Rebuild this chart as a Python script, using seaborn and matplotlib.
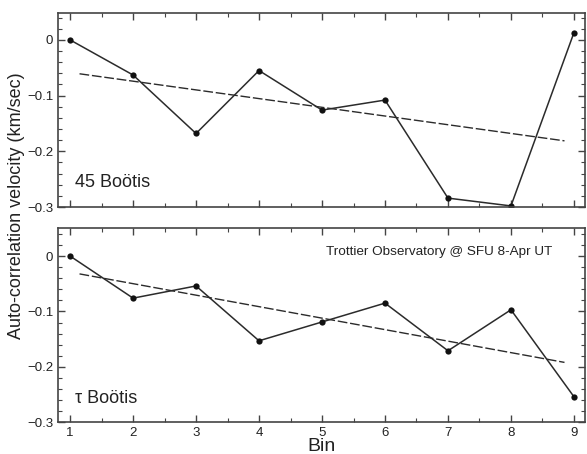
import numpy as np
import pandas as pd
import matplotlib
matplotlib.use("Agg")
import matplotlib.pyplot as plt
import seaborn as sns
from matplotlib.ticker import MultipleLocator

# --- data ---
bins = [1, 2, 3, 4, 5, 6, 7, 8, 9]
vel_45boo = [0.0, -0.063, -0.168, -0.055, -0.126, -0.108, -0.284, -0.298, 0.013]
vel_tauboo = [0.0, -0.076, -0.054, -0.153, -0.119, -0.085, -0.171, -0.097, -0.254]
star_names = ["45 Boötis", "τ Boötis"]
fit_range = [1.15, 8.85]

sns.set_style("ticks")
plt.rcParams["font.family"] = ["Liberation Sans", "DejaVu Sans"]

fig, axes = plt.subplots(2, 1, figsize=(5.87, 4.54), dpi=100, sharex=True)
fig.subplots_adjust(left=0.099, right=0.996, top=0.971, bottom=0.07, hspace=0.11)

ink = "#2b2b2b"
for ax, vel, name in zip(axes, [vel_45boo, vel_tauboo], star_names):
    df = pd.DataFrame({"Bin": bins, "vel": vel})
    sns.lineplot(data=df, x="Bin", y="vel", ax=ax, color=ink, lw=1.1,
                 marker="o", markersize=4.5, markeredgewidth=0, markerfacecolor="#111111")

    # least squares trend, drawn as dashed line
    k, b = np.polyfit(df["Bin"], df["vel"], 1)
    fit = pd.DataFrame({"Bin": fit_range})
    fit["vel"] = k * fit["Bin"] + b
    ax.plot(fit["Bin"], fit["vel"], color=ink, lw=1.0, dashes=(7, 2))

    ax.text(0.032, 0.124, name, transform=ax.transAxes, fontsize=13,
            va="center", ha="left", color="#222222")

    ax.set_xlim(0.81, 9.17)
    ax.set_ylim(-0.3, 0.048)
    ax.set_xticks(bins)
    ax.set_yticks([0, -0.1, -0.2, -0.3])
    ax.set_yticklabels(["0", "\u22120.1", "\u22120.2", "\u22120.3"])
    ax.xaxis.set_minor_locator(MultipleLocator(0.5))
    ax.yaxis.set_minor_locator(MultipleLocator(0.02))
    ax.tick_params(which="both", direction="in", top=True, right=True,
                   color="#444444", labelsize=9.5, labelcolor="#222222")
    ax.tick_params(which="major", length=5, width=1)
    ax.tick_params(which="minor", length=3, width=0.8)
    for s in ax.spines.values():
        s.set_color("#444444")
        s.set_linewidth(1.2)
    ax.set_xlabel("")
    ax.set_ylabel("")

axes[0].tick_params(labelbottom=False)
axes[1].set_ylim(-0.3, 0.05)
axes[1].text(0.939, 0.876, "Trottier Observatory @ SFU 8-Apr UT",
             transform=axes[1].transAxes, fontsize=9.7, ha="right", va="center",
             color="#222222")
axes[1].set_xlabel("Bin", fontsize=14, labelpad=-1, color="#222222")

fig.text(0.028, 0.548, "Auto-correlation velocity (km/sec)", rotation=90,
         fontsize=13, ha="center", va="center", color="#222222")

fig.savefig("out.png", dpi=100)
